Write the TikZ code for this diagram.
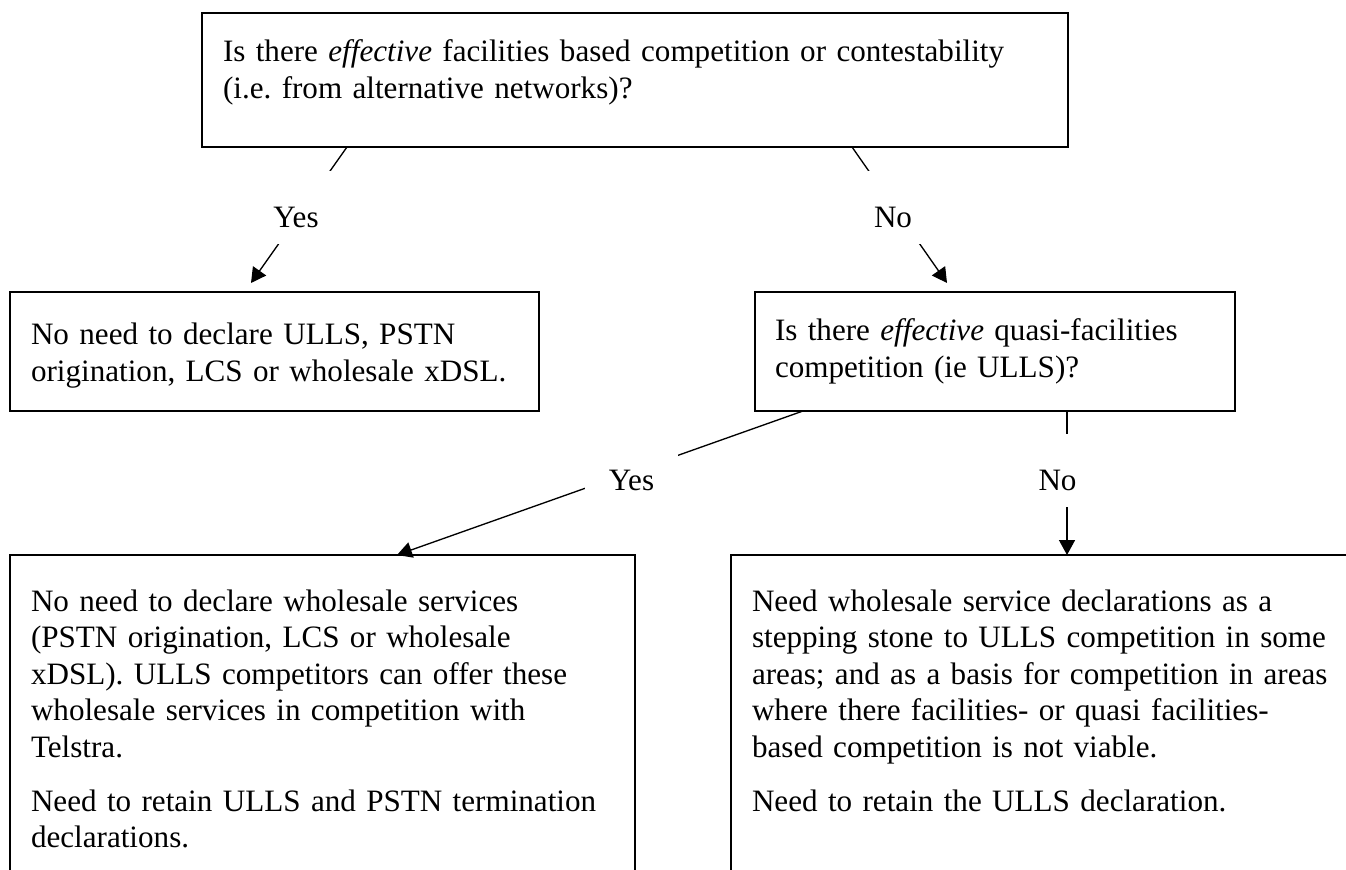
\documentclass[tikz,border=0pt]{standalone}
\usepackage{fontspec}
\setmainfont{Liberation Serif}
\usetikzlibrary{arrows.meta}

\begin{document}
\frenchspacing
\begin{tikzpicture}[x=0.376pt, y=-0.376pt,
  font=\fontsize{11.7}{13.75}\selectfont,
  panel/.style={rectangle, draw=black, line width=0.6pt, anchor=north west, align=left, inner xsep=7.9pt, inner ysep=0pt, outer sep=0pt},
  answer/.style={rectangle, fill=white, anchor=base, inner xsep=5.6pt, inner ysep=0pt, text height=21.6pt, text depth=6.2pt},
  conn/.style={line width=0.5pt, -{Triangle[length=5.6pt, width=6pt]}}]
\useasboundingbox (0,0) rectangle (1346,870);
\clip (0,0) rectangle (1346,870);

\node[panel, text width=309.8pt, text height=18.4pt, text depth=31.9pt] (1) at (202,13) {Is there \textit{effective} facilities based competition or contestability\\(i.e. from alternative networks)?};
\node[panel, text width=183.1pt, text height=19.9pt, text depth=24.8pt] (2) at (10,292) {No need to declare ULLS, PSTN\\origination, LCS or wholesale xDSL.};
\node[panel, inner xsep=7.52pt, text width=165.4pt, text height=18.4pt, text depth=26.3pt] (3) at (755,292) {Is there \textit{effective} quasi-facilities\\competition (ie ULLS)?};
\node[panel, text width=219.2pt, text height=21.06pt, text depth=108.7pt] (4) at (10,555) {No need to declare wholesale services\\(PSTN origination, LCS or wholesale\\xDSL). ULLS competitors can offer these\\wholesale services in competition with\\Telstra.\\[6.6pt]Need to retain ULLS and PSTN termination\\declarations.};
\node[panel, text width=240.6pt, text height=21.06pt, text depth=108.7pt] (5) at (731,555) {Need wholesale service declarations as a\\stepping stone to ULLS competition in some\\areas; and as a basis for competition in areas\\where there facilities- or quasi facilities-\\based competition is not viable.\\[6.6pt]Need to retain the ULLS declaration.};

\coordinate (s6) at (347,147);
\coordinate (e6) at (251,283);
\coordinate (s7) at (852,147);
\coordinate (e7) at (947,283);
\coordinate (s8) at (803,411);
\coordinate (e8) at (397,555);
\coordinate (s9) at (1067,411);
\coordinate (e9) at (1067,555);

\draw[conn] (s6) -- (e6);
\draw[conn] (s7) -- (e7);
\draw[conn] (s8) -- (e8);
\draw[conn] (s9) -- (e9);

\node[answer] (6) at (296,228) {Yes};
\node[answer] (7) at (893,228) {No};
\node[answer, inner xsep=9pt, text height=17.3pt, text depth=1.9pt] (8) at (631.5,491) {Yes};
\node[answer, inner xsep=1.9pt] (9) at (1057.5,491) {No};
\end{tikzpicture}
\end{document}
